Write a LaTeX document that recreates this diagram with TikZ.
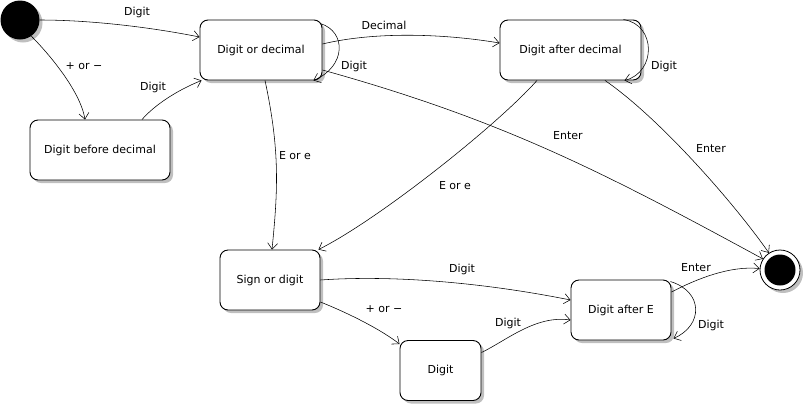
\documentclass[tikz,border=0pt]{standalone}
\usepackage{fontspec}
\setmainfont{DejaVu Sans}
\usetikzlibrary{arrows.meta,shadows,calc}
\begin{document}
\begin{tikzpicture}[x=1pt,y=-1pt,
  font=\fontsize{11}{13}\selectfont,
  shad/.style={drop shadow={shadow xshift=3pt, shadow yshift=-3pt, fill=black!25, opacity=1}},
  state/.style={draw, rounded corners=8pt, fill=white, line width=0.9pt, inner sep=0pt, shad},
  tr/.style={-{Straight Barb[length=6pt,width=10pt]}, line width=0.55pt},
  lbl/.style={inner sep=1pt}]
\useasboundingbox (0,0) rectangle (805,405);

% states
\node[circle, fill=black, minimum size=39pt, inner sep=0pt, shad] (init) at (20,20) {};
\node[circle, draw, fill=white, line width=0.8pt, minimum size=40pt, inner sep=0pt, shad] (fin) at (780,270) {};
\node[circle, fill=black, minimum size=31pt, inner sep=0pt] (finin) at (fin) {};

\node[state, minimum width=122pt, minimum height=60pt] (dod) at (261,50) {Digit or decimal};
\node[state, minimum width=140pt, minimum height=60pt] (dbd) at (100,150) {Digit before decimal};
\node[state, minimum width=141pt, minimum height=60pt] (dao) at (570.5,50) {Digit after decimal};
\node[state, minimum width=100pt, minimum height=60pt] (sod) at (270,280) {Sign or digit};
\node[state, minimum width=81pt, minimum height=60pt] (dig) at (440.5,370.5) {Digit};
\node[state, minimum width=100pt, minimum height=60pt] (dae) at (621,310) {Digit after E};

% transitions
\draw[tr] (init.east) .. controls +(50,0) and +(-50,-10) .. ($(dod.west)+(0,-13)$);
\draw[tr] (init.-55) .. controls +(15,15) and +(-5,-30) .. ($(dbd.north)+(-15,0)$);
\draw[tr] ($(dbd.north)+(42,0)$) .. controls +(12,-14) and +(-25,10) .. ($(dod.south west)+(2,0)$);
\draw[tr] ($(dod.north east)+(-2,4)$) .. controls +(26,8) and +(33,-14) .. ($(dod.south east)+(-9,0)$);
\draw[tr] ($(dod.east)+(0,-6)$) .. controls +(50,-12) and +(-60,-10) .. ($(dao.west)+(0,-7)$);
\draw[tr] ($(dod.east)+(0,20)$) .. controls +(180,50) and +(-160,-87) .. (fin.147);
\draw[tr] ($(dod.south)+(4,0)$) .. controls +(15,70) and +(6,-60) .. ($(sod.north)+(2,0)$);
\draw[tr] ($(dao.north east)+(-18,0)$) .. controls +(33,5) and +(32,-8) .. ($(dao.south east)+(-17,0)$);
\draw[tr] ($(dao.south)+(-33.5,0)$) .. controls +(-40,45) and +(60,-30) .. ($(sod.north east)+(-2,0)$);
\draw[tr] ($(dao.south)+(34.5,0)$) .. controls +(55,38) and +(-35,-50) .. (fin.123);
\draw[tr] (sod.east) .. controls +(70,-5) and +(-90,-18) .. ($(dae.west)+(0,-10)$);
\draw[tr] ($(sod.east)+(0,22)$) .. controls +(30,12) and +(-18,-14) .. ($(dig.north west)+(0,4)$);
\draw[tr] ($(dig.east)+(0,-18)$) .. controls +(25,-12) and +(-35,-5) .. ($(dae.west)+(0,10)$);
\draw[tr] ($(dae.east)+(0,-18)$) .. controls +(25,-13) and +(-30,-3) .. (fin.176);
\draw[tr] ($(dae.north east)+(-1,2)$) .. controls +(33,10) and +(30,-13) .. ($(dae.south east)+(2,-2)$);

% labels
\node[lbl] (l1) at (137,12) {Digit};
\node[lbl] (l2) at (84,66) {+ or −};
\node[lbl] (l3) at (153,87) {Digit};
\node[lbl] (l4) at (354,66) {Digit};
\node[lbl] (l5) at (384,25) {Decimal};
\node[lbl] (l6) at (568,136) {Enter};
\node[lbl] (l7) at (295,156) {E or e};
\node[lbl] (l8) at (664,66) {Digit};
\node[lbl] (l9) at (455,186) {E or e};
\node[lbl] (l10) at (711,149) {Enter};
\node[lbl] (l11) at (462,269) {Digit};
\node[lbl] (l12) at (384,309) {+ or −};
\node[lbl] (l13) at (508,323) {Digit};
\node[lbl] (l14) at (696,268) {Enter};
\node[lbl] (l15) at (711,325) {Digit};
\end{tikzpicture}
\end{document}
